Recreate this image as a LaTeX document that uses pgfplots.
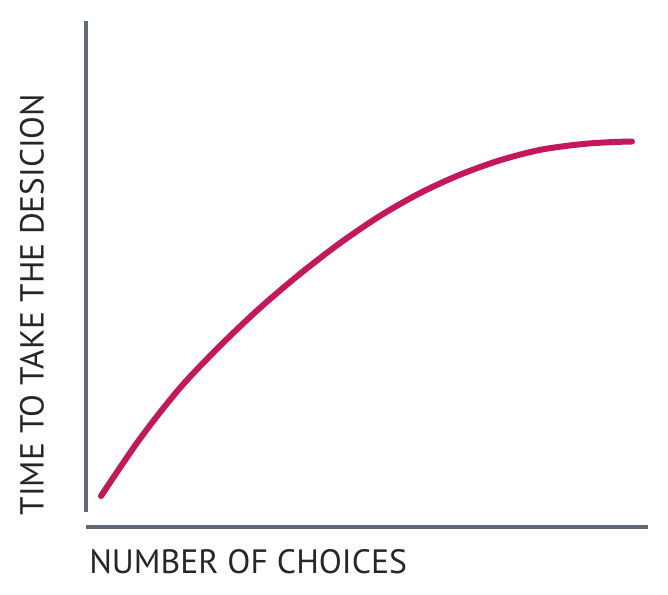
\documentclass[border=0pt]{standalone}
\usepackage{fontspec}
\setmainfont{PT Sans}
\usepackage{pgfplots}
\pgfplotsset{compat=1.18}
\definecolor{AxisGray}{HTML}{5E6A7A}
\definecolor{CurveRed}{HTML}{C3185B}
\definecolor{LabelInk}{HTML}{262626}
\begin{document}
\begin{tikzpicture}
\begin{axis}[
  scale only axis,
  width=501pt, height=446.25pt,
  xmin=0, xmax=668, ymin=0, ymax=595,
  hide axis,
  clip=false,
]
% axis lines (they do not meet in the original)
\draw[AxisGray, line width=3pt] (axis cs:86,574) -- (axis cs:86,83);
\draw[AxisGray, line width=3pt] (axis cs:86,68) -- (axis cs:648,68);
% curve, in picture units (y measured from the bottom)
\addplot[CurveRed, line width=4.5pt, line cap=round, smooth] coordinates {
  (101,99) (140,156.3) (180,207.1) (220,249.1) (260,287.1) (300,321.1)
  (340,351.9) (380,379.1) (420,401.9) (460,420.3) (500,434.7) (540,445.1)
  (580,450.7) (610,452.8) (632,453.5)
};
\node[anchor=west, text=LabelInk, font=\fontsize{25.3}{30}\selectfont, inner sep=0pt] at (axis cs:89,33) {NUMBER OF CHOICES};
\node[rotate=90, text=LabelInk, font=\fontsize{25}{30}\selectfont, inner sep=0pt] at (axis cs:32,290.5) {TIME TO TAKE THE DESICION};
\end{axis}
\pgfresetboundingbox
\useasboundingbox (current axis.south west) rectangle (current axis.north east);
\end{tikzpicture}
\end{document}
